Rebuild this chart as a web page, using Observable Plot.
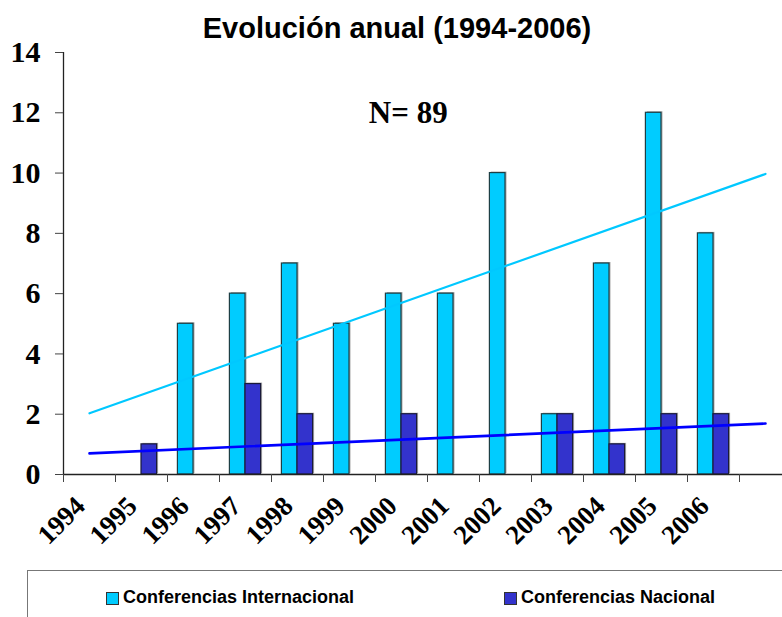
<!DOCTYPE html>
<html><head><meta charset="utf-8">
<script src="https://cdn.jsdelivr.net/npm/d3@7"></script>
<script src="https://cdn.jsdelivr.net/npm/@observablehq/plot@0.6"></script>
<style>
html,body{margin:0;padding:0;background:#fff;overflow:hidden;width:782px;height:617px}
#wrap{position:relative;width:782px;height:617px;overflow:hidden}
#title{position:absolute;left:0;width:794px;top:14px;text-align:center;font-family:"Liberation Sans",Arial,sans-serif;font-weight:bold;font-size:29px;line-height:29px;color:#000}
#chart{position:absolute;left:0;top:0;width:800px}
#chart svg{font-weight:bold;max-width:none !important;width:800px;height:565px}
#legend{position:absolute;left:27px;top:570px;width:800px;height:100px;border-top:1.5px solid #777;border-left:1.5px solid #777}
.sw{position:absolute;width:11px;height:11px;border:1px solid #333;top:21px}
.lb{position:absolute;top:16px;font-family:"Liberation Sans",Arial,sans-serif;font-weight:bold;font-size:18px;line-height:20px;white-space:nowrap}
</style></head>
<body>
<div id="wrap">
  <div id="chart"></div>
  <div id="title"></div>
  <div id="legend"></div>
</div>
<script>
const titleText = "Evolución anual (1994-2006)";
const annotation = "N= 89";
const years = [1994,1995,1996,1997,1998,1999,2000,2001,2002,2003,2004,2005,2006];
const internacional = [0,0,5,6,7,5,6,6,10,2,7,12,8];
const nacional = [0,1,0,3,2,0,2,0,0,2,1,2,2];
const yTicks = [0,2,4,6,8,10,12,14];
const trendYears = [1994, 2007];
const trendInternacional = [2.03, 9.97];
const trendNacional = [0.70, 1.69];
const annotationPos = {year: 2000.13, value: 12};
const seriesNames = ["Conferencias Internacional", "Conferencias Nacional"];
const colors = {int: "#00CCFF", nat: "#3333CC", trendInt: "#00C8FF", trendNat: "#0000FF"};

const intData = years.map((y,i)=>({year:y, v:internacional[i]})).filter(d=>d.v>0);
const natData = years.map((y,i)=>({year:y, v:nacional[i]})).filter(d=>d.v>0);
const tInt = trendYears.map((y,i)=>({year:y, v:trendInternacional[i]}));
const tNat = trendYears.map((y,i)=>({year:y, v:trendNacional[i]}));

const chart = Plot.plot({
  width: 800, height: 565,
  marginLeft: 63, marginRight: 9, marginTop: 52, marginBottom: 91,
  x: {domain: [1994, 2008], axis: null},
  y: {domain: [0, 14], axis: null},
  style: {background: "transparent", overflow: "visible", fontFamily: "'Liberation Serif','Times New Roman',serif"},
  marks: [
    Plot.rectY(intData, {x1: d=>d.year+0.2, x2: d=>d.year+0.5, y: "v", fill: "#aaaaaa", dx: 1.5, dy: -1}),
    Plot.rectY(natData, {x1: d=>d.year+0.5, x2: d=>d.year+0.8, y: "v", fill: "#aaaaaa", dx: 1.5, dy: -1}),
    Plot.rectY(intData, {x1: d=>d.year+0.2, x2: d=>d.year+0.5, y: "v", fill: colors.int, stroke: "#1d3f45", strokeWidth: 1.2}),
    Plot.rectY(natData, {x1: d=>d.year+0.5, x2: d=>d.year+0.8, y: "v", fill: colors.nat, stroke: "#1a1a3a", strokeWidth: 1.2}),
    Plot.line(tInt, {x: d=>d.year+0.5, y: "v", stroke: colors.trendInt, strokeWidth: 2.2}),
    Plot.line(tNat, {x: d=>d.year+0.5, y: "v", stroke: colors.trendNat, strokeWidth: 2.6}),
    Plot.ruleY([0], {stroke: "#222", strokeWidth: 1.3}),
    Plot.ruleX([1994], {stroke: "#222", strokeWidth: 1.3}),
    Plot.axisX({ticks: d3.range(1994, 2009), tickSize: 8, tickFormat: () => "", label: null, stroke: "#444"}),
    Plot.axisY({ticks: yTicks, tickSize: 8, tickPadding: 15, label: null, fontSize: 30, fontWeight: "bold", stroke: "#444", fill: "#000"}),
    Plot.text(years, {x: d=>d+0.5, y: () => 0, text: d=>String(d), rotate: -45, textAnchor: "end", dx: -9, dy: 27, fontSize: 27, fontWeight: "bold", fill: "#000"}),
    Plot.text([annotation], {x: () => annotationPos.year + 0.5, y: () => annotationPos.value, text: d=>d, fontSize: 31, fontWeight: "bold", fill: "#000"})
  ]
});
document.getElementById("chart").appendChild(chart);
document.getElementById("title").textContent = titleText;

const legend = document.getElementById("legend");
const items = [
  {name: seriesNames[0], color: colors.int, sx: 78, tx: 95},
  {name: seriesNames[1], color: colors.nat, sx: 476, tx: 493}
];
for (const it of items) {
  const s = document.createElement("div"); s.className = "sw"; s.style.left = it.sx + "px"; s.style.background = it.color; legend.appendChild(s);
  const t = document.createElement("div"); t.className = "lb"; t.style.left = it.tx + "px"; t.textContent = it.name; legend.appendChild(t);
}
</script>
</body></html>
